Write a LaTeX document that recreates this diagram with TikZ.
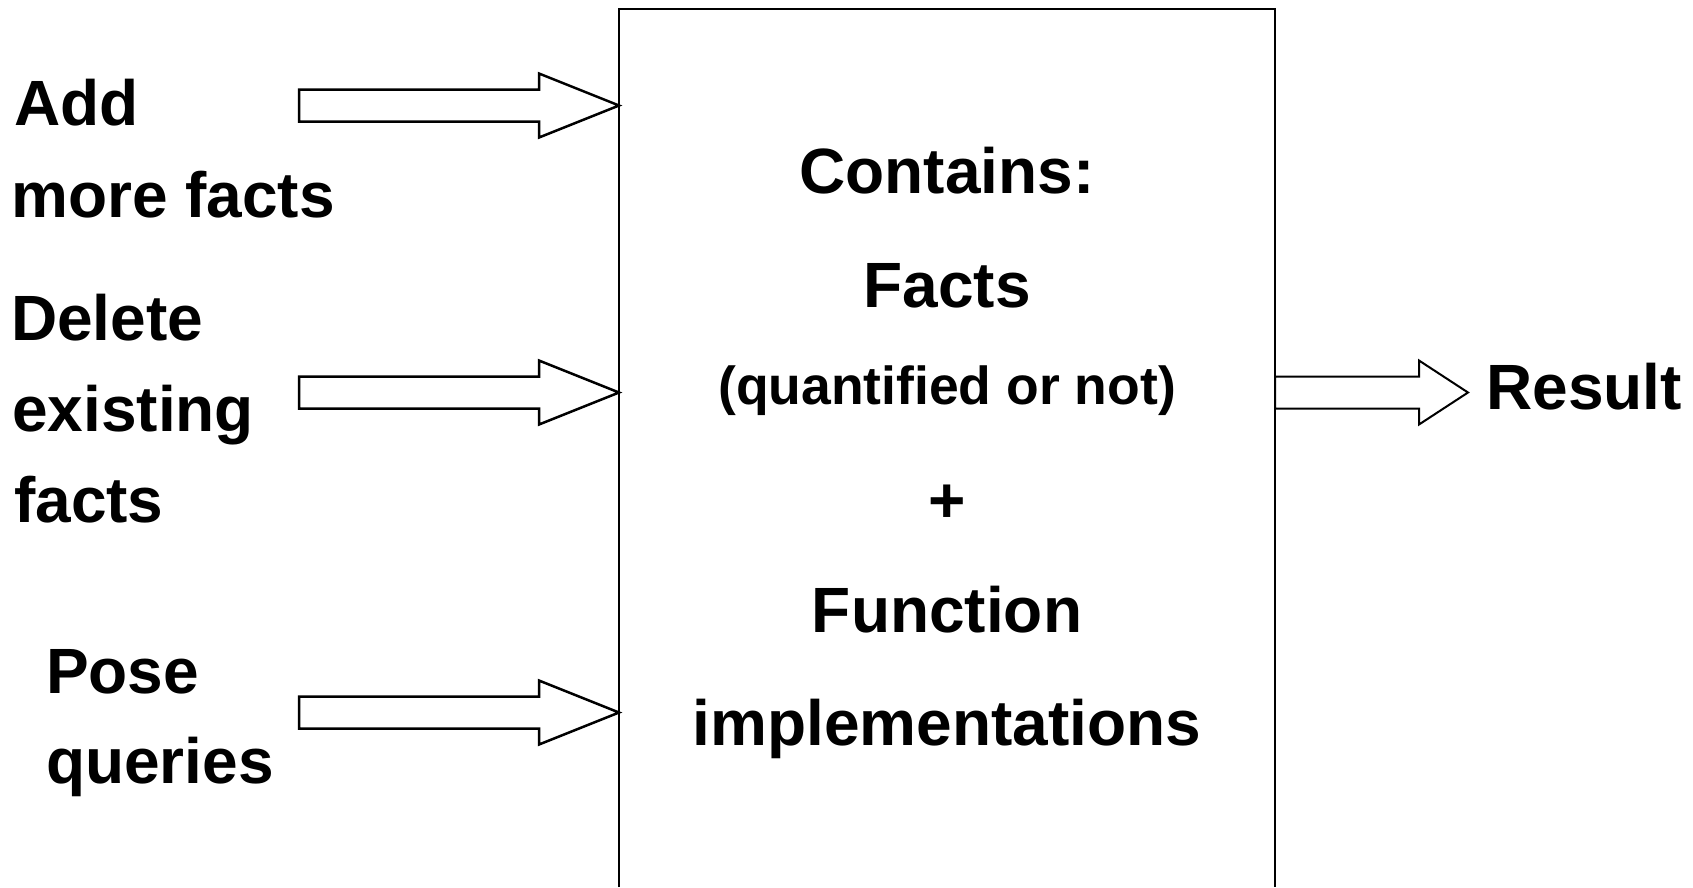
\documentclass[tikz,border=0pt]{standalone}
\usepackage{fontspec}
\setmainfont{Liberation Sans}
\begin{document}
\begin{tikzpicture}[x=1pt,y=-1pt,
  boxline/.style={draw=black, line width=2.2pt},
  arrowline/.style={draw=black, fill=white, line width=2.5pt, line join=miter},
  resline/.style={draw=black, fill=white, line width=2pt, line join=miter},
  big/.style={inner sep=0pt, font=\bfseries\fontsize{64pt}{70pt}\selectfont},
  small/.style={inner sep=0pt, font=\bfseries\fontsize{53.5pt}{60pt}\selectfont},
  pics/blockarrow/.style n args={5}{code={
    \draw[#5] (0,0) -- (-#2,-#4) -- (-#2,-#3) -- (-#1,-#3) -- (-#1,#3) -- (-#2,#3) -- (-#2,#4) -- cycle;
  }}
]
\useasboundingbox (0,0) rectangle (1693,887);
\fill[white] (0,0) rectangle (1693,887);

% knowledge box (open at the bottom, cut by the picture edge)
\coordinate (boxBL) at (619,887);
\coordinate (boxTL) at (619,9);
\coordinate (boxTR) at (1275,9);
\coordinate (boxBR) at (1275,887);
\draw[boxline] (boxBL) -- (boxTL) -- (boxTR) -- (boxBR);

% arrow tips on the box
\coordinate (addTip) at (619,105.5);
\coordinate (delTip) at (619,392.5);
\coordinate (poseTip) at (619,712.5);
\coordinate (resTip) at (1468,392.5);

\pic at (addTip) {blockarrow={320}{80}{16}{32}{arrowline}};
\pic at (delTip) {blockarrow={320}{80}{16}{32}{arrowline}};
\pic at (poseTip) {blockarrow={320}{80}{16}{32}{arrowline}};
\pic at (resTip) {blockarrow={193}{49}{16}{32}{resline}};

% left labels
\node[big, anchor=base west] (add1) at (14,125) {Add};
\node[big, anchor=base west] (add2) at (11,217) {more facts};
\node[big, anchor=base west] (del1) at (11,340) {Delete};
\node[big, anchor=base west] (del2) at (12,431) {existing};
\node[big, anchor=base west] (del3) at (14,522) {facts};
\node[big, anchor=base west] (pose1) at (46,693) {Pose};
\node[big, anchor=base west] (pose2) at (46,783) {queries};

% box contents
\node[big, anchor=base] (c1) at (947,193) {Contains:};
\node[big, anchor=base] (c2) at (947,307) {Facts};
\node[small, anchor=base] (c3) at (947,404) {(quantified or not)};
\node[big, anchor=base] (c4) at (947,522) {+};
\node[big, anchor=base] (c5) at (947,632) {Function};
\node[big, anchor=base] (c6) at (947,745) {implementations};

% result
\node[big, anchor=base west] (res) at (1486,409) {Result};
\end{tikzpicture}
\end{document}
